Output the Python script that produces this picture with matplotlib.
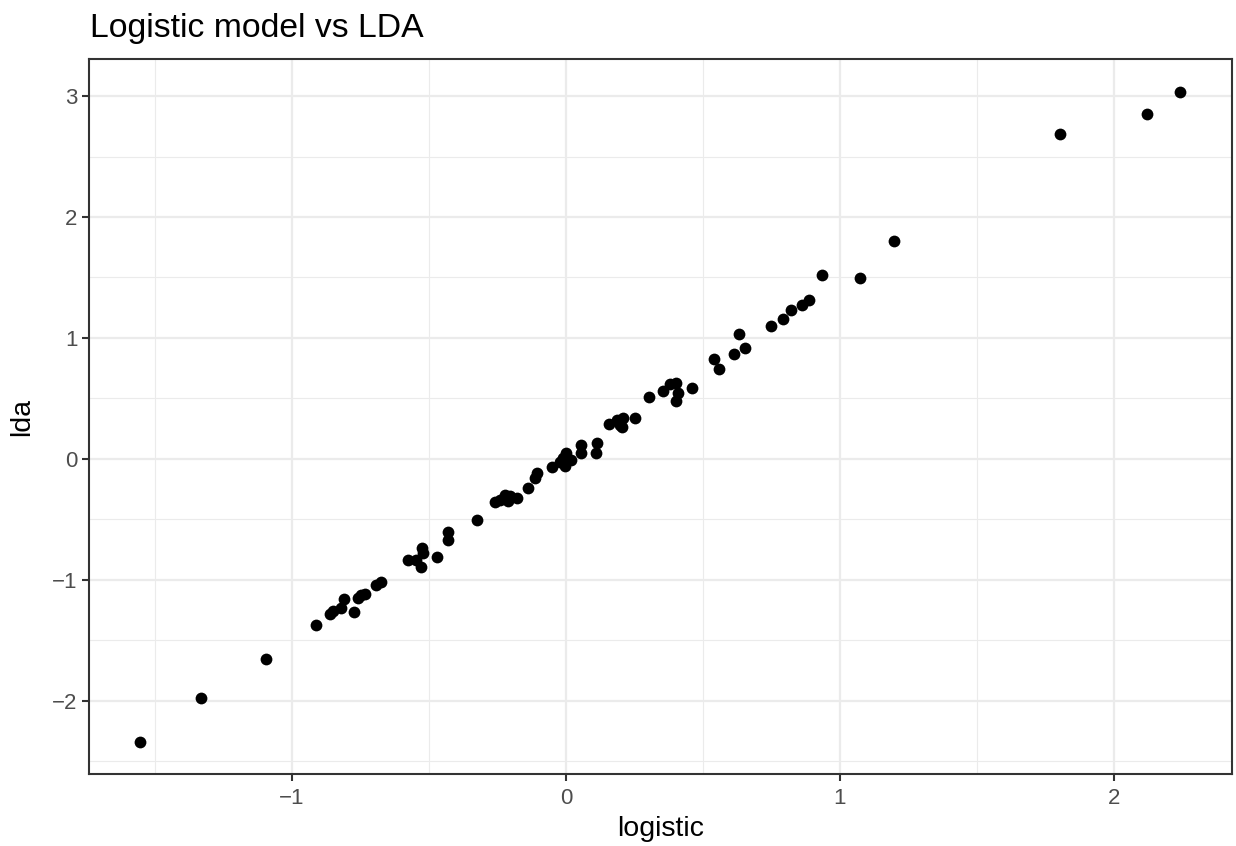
import matplotlib
matplotlib.use("Agg")
import matplotlib.pyplot as plt
import numpy as np

# values
logistic = [-1.552, -1.330, -1.093, -0.910, -0.859, -0.849, -0.819, -0.810, -0.774, -0.758,
            -0.746, -0.734, -0.691, -0.673, -0.576, -0.545, -0.530, -0.524, -0.521, -0.470,
            -0.430, -0.430, -0.324, -0.259, -0.241, -0.223, -0.211, -0.204, -0.178, -0.137,
            -0.113, -0.107, -0.052, -0.022, -0.010, -0.004, 0.002, 0.020, 0.057, 0.057,
            0.112, 0.109, 0.158, 0.185, 0.197, 0.209, 0.205, 0.252, 0.304, 0.355,
            0.380, 0.401, 0.410, 0.401, 0.459, 0.540, 0.558, 0.613, 0.633, 0.653,
            0.748, 0.791, 0.821, 0.860, 0.888, 0.933, 1.075, 1.198, 1.803, 2.119, 2.241]
lda = [-2.337, -1.977, -1.655, -1.373, -1.285, -1.258, -1.230, -1.156, -1.266, -1.148,
       -1.128, -1.120, -1.046, -1.019, -0.838, -0.838, -0.893, -0.736, -0.777, -0.810,
       -0.607, -0.667, -0.508, -0.357, -0.338, -0.297, -0.351, -0.310, -0.324, -0.242,
       -0.159, -0.118, -0.063, -0.022, 0.006, -0.058, 0.047, -0.010, 0.115, 0.047,
       0.129, 0.052, 0.286, 0.321, 0.280, 0.335, 0.265, 0.340, 0.508, 0.560,
       0.618, 0.629, 0.546, 0.478, 0.587, 0.829, 0.741, 0.871, 1.030, 0.920,
       1.096, 1.159, 1.233, 1.269, 1.310, 1.521, 1.494, 1.798, 2.688, 2.856, 3.034]

x_ticks = [-1, 0, 1, 2]
y_ticks = [-2, -1, 0, 1, 2, 3]

plt.rcParams['font.family'] = ['Liberation Sans', 'DejaVu Sans']

fig = plt.figure(figsize=(12.36, 8.46), dpi=100)
ax = fig.add_axes([88.5 / 1236, 1 - 774 / 846, (1232 - 88.5) / 1236, (774 - 59.5) / 846])

ax.scatter(logistic, lda, s=72, color='black', linewidths=0, zorder=3)

# ggplot-like expansion of 5%
xr = max(logistic) - min(logistic)
yr = max(lda) - min(lda)
ax.set_xlim(min(logistic) - 0.05 * xr, max(logistic) + 0.05 * xr)
ax.set_ylim(min(lda) - 0.05 * yr, max(lda) + 0.05 * yr)

ax.set_xticks(x_ticks)
ax.set_yticks(y_ticks)
ax.set_xticklabels(['\u22121', '0', '1', '2'])
ax.set_yticklabels(['\u22122', '\u22121', '0', '1', '2', '3'])
ax.set_xticks([-1.5, -0.5, 0.5, 1.5], minor=True)
ax.set_yticks([-2.5, -1.5, -0.5, 0.5, 1.5, 2.5], minor=True)

ax.grid(which='major', color='#EBEBEB', linewidth=1.6, zorder=0)
ax.grid(which='minor', color='#EBEBEB', linewidth=0.8, zorder=0)
ax.set_axisbelow(True)

for sp in ax.spines.values():
    sp.set_color('#333333')
    sp.set_linewidth(1.5)

ax.tick_params(which='major', length=5, width=1.5, color='#333333',
               labelcolor='#4D4D4D', labelsize=16, pad=3)
ax.tick_params(axis='x', which='major', pad=5)
ax.tick_params(which='minor', length=0)

ax.set_xlabel('logistic', fontsize=20.5, color='black', labelpad=5)
ax.set_ylabel('lda', fontsize=20.5, color='black', labelpad=12)
fig.text(90 / 1236, 1 - 37 / 846, 'Logistic model vs LDA', fontsize=24.3, ha='left', va='baseline')

fig.savefig('out.png', dpi=100)
